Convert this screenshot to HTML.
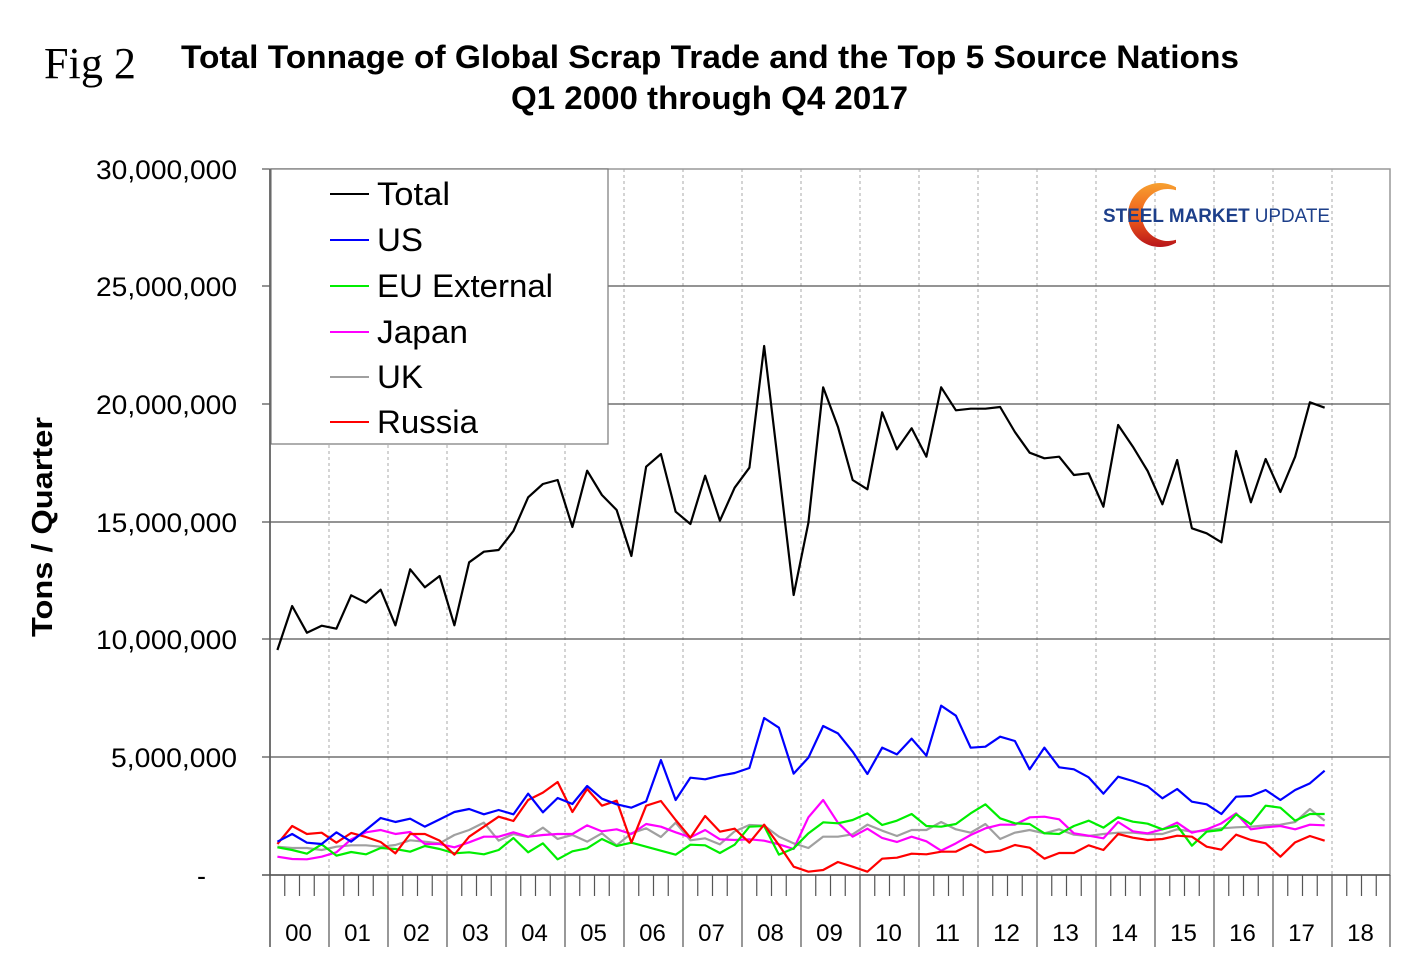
<!DOCTYPE html>
<html><head><meta charset="utf-8"><style>
html,body{margin:0;padding:0;background:#fff;}
svg{display:block;font-family:"Liberation Sans",sans-serif;}
</style></head><body>
<svg width="1420" height="973" viewBox="0 0 1420 973" xmlns="http://www.w3.org/2000/svg">
<text x="44" y="78" font-family="Liberation Serif,serif" font-size="44" textLength="92" lengthAdjust="spacingAndGlyphs">Fig 2</text>
<text x="181" y="68" font-size="32" font-weight="bold" textLength="1058" lengthAdjust="spacingAndGlyphs">Total Tonnage of Global Scrap Trade and the Top 5 Source Nations</text>
<text x="511" y="109" font-size="32" font-weight="bold" textLength="397" lengthAdjust="spacingAndGlyphs">Q1 2000 through Q4 2017</text>
<text transform="translate(52,527) rotate(-90)" font-size="29" font-weight="bold" text-anchor="middle" textLength="220" lengthAdjust="spacingAndGlyphs">Tons / Quarter</text>

<g stroke="#aaa" stroke-width="1" stroke-dasharray="3,3">
<line x1="329" y1="169" x2="329" y2="875"/><line x1="388" y1="169" x2="388" y2="875"/><line x1="447" y1="169" x2="447" y2="875"/><line x1="506" y1="169" x2="506" y2="875"/><line x1="565" y1="169" x2="565" y2="875"/><line x1="624" y1="169" x2="624" y2="875"/><line x1="683" y1="169" x2="683" y2="875"/><line x1="742" y1="169" x2="742" y2="875"/><line x1="801" y1="169" x2="801" y2="875"/><line x1="860" y1="169" x2="860" y2="875"/><line x1="919" y1="169" x2="919" y2="875"/><line x1="978" y1="169" x2="978" y2="875"/><line x1="1037" y1="169" x2="1037" y2="875"/><line x1="1096" y1="169" x2="1096" y2="875"/><line x1="1155" y1="169" x2="1155" y2="875"/><line x1="1214" y1="169" x2="1214" y2="875"/><line x1="1273" y1="169" x2="1273" y2="875"/><line x1="1332" y1="169" x2="1332" y2="875"/>
</g>
<g stroke="#555" stroke-width="1.2">
<line x1="262" y1="286" x2="1390" y2="286"/><line x1="262" y1="404" x2="1390" y2="404"/><line x1="262" y1="522" x2="1390" y2="522"/><line x1="262" y1="639" x2="1390" y2="639"/><line x1="262" y1="757" x2="1390" y2="757"/><line x1="262" y1="169" x2="270" y2="169"/>
</g>
<rect x="270" y="169" width="1120" height="706" fill="none" stroke="#999" stroke-width="1.5"/>
<line x1="270" y1="169" x2="270" y2="947" stroke="#555" stroke-width="1.5"/>
<line x1="262" y1="875" x2="1390" y2="875" stroke="#555" stroke-width="1.5"/>

<g font-size="27" text-anchor="end" lengthAdjust="spacingAndGlyphs">
<text x="237" y="179" textLength="141" lengthAdjust="spacingAndGlyphs">30,000,000</text><text x="237" y="296" textLength="141" lengthAdjust="spacingAndGlyphs">25,000,000</text><text x="237" y="414" textLength="141" lengthAdjust="spacingAndGlyphs">20,000,000</text><text x="237" y="532" textLength="141" lengthAdjust="spacingAndGlyphs">15,000,000</text><text x="237" y="649" textLength="141" lengthAdjust="spacingAndGlyphs">10,000,000</text><text x="237" y="767" textLength="126" lengthAdjust="spacingAndGlyphs">5,000,000</text><text x="206" y="885">-</text>
</g>

<g stroke="#555" stroke-width="1.2">
<path d="M284.75 875V896M299.5 875V896M314.25 875V896M343.75 875V896M358.5 875V896M373.25 875V896M402.75 875V896M417.5 875V896M432.25 875V896M461.75 875V896M476.5 875V896M491.25 875V896M520.75 875V896M535.5 875V896M550.25 875V896M579.75 875V896M594.5 875V896M609.25 875V896M638.75 875V896M653.5 875V896M668.25 875V896M697.75 875V896M712.5 875V896M727.25 875V896M756.75 875V896M771.5 875V896M786.25 875V896M815.75 875V896M830.5 875V896M845.25 875V896M874.75 875V896M889.5 875V896M904.25 875V896M933.75 875V896M948.5 875V896M963.25 875V896M992.75 875V896M1007.5 875V896M1022.25 875V896M1051.75 875V896M1066.5 875V896M1081.25 875V896M1110.75 875V896M1125.5 875V896M1140.25 875V896M1169.75 875V896M1184.5 875V896M1199.25 875V896M1228.75 875V896M1243.5 875V896M1258.25 875V896M1287.75 875V896M1302.5 875V896M1317.25 875V896M1346.75 875V896M1361.5 875V896M1376.25 875V896"/>
<path d="M329 875V947M388 875V947M447 875V947M506 875V947M565 875V947M624 875V947M683 875V947M742 875V947M801 875V947M860 875V947M919 875V947M978 875V947M1037 875V947M1096 875V947M1155 875V947M1214 875V947M1273 875V947M1332 875V947M1390 875V947"/>
</g>
<g font-size="24" text-anchor="middle">
<text x="298.5" y="941">00</text><text x="357.5" y="941">01</text><text x="416.5" y="941">02</text><text x="475.5" y="941">03</text><text x="534.5" y="941">04</text><text x="593.5" y="941">05</text><text x="652.5" y="941">06</text><text x="711.5" y="941">07</text><text x="770.5" y="941">08</text><text x="829.5" y="941">09</text><text x="888.5" y="941">10</text><text x="947.5" y="941">11</text><text x="1006.5" y="941">12</text><text x="1065.5" y="941">13</text><text x="1124.5" y="941">14</text><text x="1183.5" y="941">15</text><text x="1242.5" y="941">16</text><text x="1301.5" y="941">17</text><text x="1360.5" y="941">18</text>
</g>

<g fill="none" stroke-width="2.2" stroke-linejoin="round" transform="translate(277.4,690) scale(14.75,0.33333)">
<polyline vector-effect="non-scaling-stroke" stroke="#a0a0a0" points="0,470 1,474 2,474 3,480 4,470 5,466 6,466 7,470 8,465 9,451 10,455 11,460 12,435 13,420 14,398 15,452 16,432 17,441 18,413 19,447 20,435 21,455 22,430 23,466 24,430 25,415 26,441 27,398 28,451 29,445 30,463 31,424 32,405 33,407 34,440 35,460 36,474 37,440 38,440 39,433 40,404 41,422 42,438 43,420 44,420 45,396 46,418 47,428 48,402 49,447 50,428 51,420 52,430 53,418 54,434 55,438 56,432 57,428 58,428 59,432 60,432 61,418 62,425 63,422 64,415 65,412 66,410 67,406 68,404 69,396 70,357 71,392"/>
<polyline vector-effect="non-scaling-stroke" stroke="#ff00ff" points="0,500 1,507 2,508 3,500 4,487 5,448 6,427 7,420 8,432 9,426 10,462 11,462 12,472 13,457 14,440 15,440 16,427 17,440 18,435 19,432 20,432 21,406 22,424 23,418 24,432 25,402 26,410 27,427 28,442 29,420 30,448 31,450 32,448 33,452 34,463 35,477 36,382 37,330 38,398 39,440 40,416 41,444 42,456 43,440 44,454 45,482 46,460 47,435 48,415 49,404 50,404 51,382 52,380 53,388 54,430 55,437 56,445 57,396 58,424 59,430 60,418 61,398 62,428 63,418 64,400 65,370 66,418 67,412 68,408 69,418 70,404 71,406"/>
<polyline vector-effect="non-scaling-stroke" stroke="#00ee00" points="0,472 1,480 2,491 3,463 4,497 5,486 6,493 7,474 8,477 9,485 10,468 11,477 12,490 13,487 14,493 15,480 16,444 17,487 18,460 19,508 20,484 21,475 22,447 23,468 24,458 25,470 26,482 27,494 28,464 29,466 30,489 31,464 32,410 33,408 34,494 35,475 36,430 37,397 38,400 39,390 40,370 41,405 42,392 43,372 44,408 45,410 46,402 47,370 48,343 49,385 50,400 51,402 52,430 53,432 54,408 55,392 56,413 57,382 58,395 59,401 60,418 61,407 62,467 63,425 64,420 65,373 66,403 67,347 68,353 69,392 70,372 71,372"/>
<polyline vector-effect="non-scaling-stroke" stroke="#ff0000" points="0,462 1,408 2,432 3,428 4,458 5,429 6,441 7,456 8,490 9,432 10,432 11,452 12,494 13,440 14,410 15,380 16,393 17,330 18,308 19,276 20,366 21,297 22,347 23,332 24,458 25,347 26,333 27,390 28,443 29,378 30,425 31,416 32,458 33,404 34,465 35,530 36,545 37,540 38,516 39,530 40,545 41,506 42,503 43,491 44,493 45,485 46,485 47,463 48,487 49,482 50,465 51,473 52,506 53,489 54,489 55,466 56,480 57,432 58,443 59,450 60,447 61,437 62,440 63,470 64,479 65,434 66,450 67,460 68,500 69,457 70,438 71,452"/>
<polyline vector-effect="non-scaling-stroke" stroke="#0000ff" points="0,455 1,432 2,458 3,462 4,427 5,455 6,420 7,384 8,396 9,386 10,410 11,388 12,366 13,357 14,373 15,360 16,373 17,311 18,367 19,324 20,342 21,288 22,326 23,343 24,353 25,334 26,210 27,330 28,263 29,268 30,257 31,249 32,234 33,84 34,113 35,251 36,203 37,108 38,130 39,185 40,252 41,173 42,193 43,146 44,197 45,47 46,77 47,173 48,170 49,140 50,153 51,238 52,173 53,232 54,238 55,262 56,311 57,260 58,273 59,289 60,325 61,297 62,335 63,343 64,372 65,320 66,318 67,300 68,330 69,300 70,280 71,242"/>
</g>
<g fill="none" stroke-width="2.2" stroke-linejoin="round" transform="translate(277.4,0) scale(14.75,1)">
<polyline vector-effect="non-scaling-stroke" stroke="#000" points="0,650 1,606 2,632.7 3,625.7 4,628.7 5,595.3 6,602.7 7,589.7 8,625.3 9,569.3 10,587.3 11,576 12,625.3 13,562.3 14,551.7 15,550 16,531 17,497.3 18,484 19,480 20,527 21,470.7 22,495 23,510 24,556 25,466.7 26,454 27,511.7 28,524 29,475.7 30,520.7 31,487.7 32,467.7 33,346 34,470 35,595 36,522.7 37,387.3 38,426.7 39,480 40,489.3 41,412.3 42,449.3 43,428.3 44,456.7 45,387.3 46,410.3 47,408.7 48,408.7 49,407 50,432 51,452.7 52,458.3 53,456.7 54,475 55,473.3 56,506.7 57,425 58,446.7 59,471 60,504.3 61,460 62,528.3 63,533.3 64,542.3 65,451 66,502.3 67,459 68,492 69,456.7 70,402.3 71,407.7"/>
</g>

<rect x="271" y="169" width="337" height="275" fill="#fff" stroke="#777" stroke-width="1.2"/>
<g stroke-width="2">
<line x1="330" y1="194" x2="369" y2="194" stroke="#000"/>
<line x1="330" y1="240" x2="369" y2="240" stroke="#0000ff"/>
<line x1="330" y1="286" x2="369" y2="286" stroke="#00ee00"/>
<line x1="330" y1="332" x2="369" y2="332" stroke="#ff00ff"/>
<line x1="330" y1="377" x2="369" y2="377" stroke="#a0a0a0"/>
<line x1="330" y1="422" x2="369" y2="422" stroke="#ff0000"/>
</g>
<g font-size="32">
<text x="377" y="205" textLength="73" lengthAdjust="spacingAndGlyphs">Total</text><text x="377" y="251" textLength="46" lengthAdjust="spacingAndGlyphs">US</text><text x="377" y="297" textLength="176" lengthAdjust="spacingAndGlyphs">EU External</text><text x="377" y="343" textLength="91" lengthAdjust="spacingAndGlyphs">Japan</text><text x="377" y="388" textLength="46" lengthAdjust="spacingAndGlyphs">UK</text><text x="377" y="433" textLength="101" lengthAdjust="spacingAndGlyphs">Russia</text>
</g>

<defs><linearGradient id="lg" x1="0" y1="0" x2="0" y2="1"><stop offset="0" stop-color="#f7a030"/><stop offset="0.55" stop-color="#ee5a1a"/><stop offset="1" stop-color="#b8141a"/></linearGradient></defs>
<path d="M1176 187.3 A32 32 0 1 0 1176 242.7 L1176 239.7 A26 26 0 1 1 1176 190.3 Z" fill="url(#lg)"/>
<text x="1103" y="222" font-size="19" fill="#1d3f8a" textLength="227" lengthAdjust="spacingAndGlyphs"><tspan font-weight="bold">STEEL</tspan><tspan font-weight="bold" dx="5">MARKET</tspan><tspan dx="5">UPDATE</tspan></text>
</svg>
</body></html>
